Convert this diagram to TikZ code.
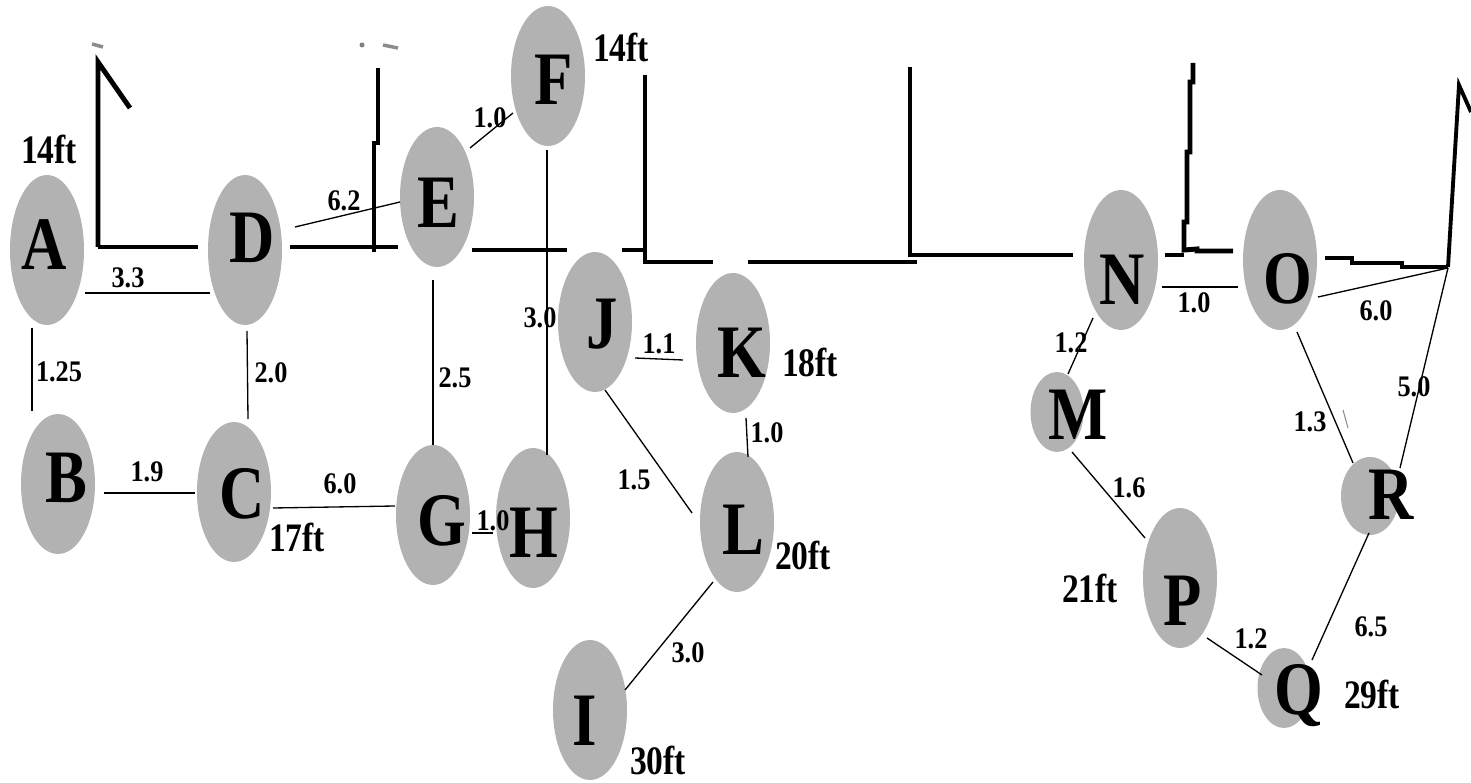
\documentclass[tikz,border=0pt]{standalone}
\usepackage{fontspec}
\usetikzlibrary{shapes.geometric,calc}
\newfontfamily\lbf[FakeStretch=0.83]{Liberation Serif}
\newfontfamily\lbn[FakeStretch=0.88]{Liberation Serif}
\definecolor{nodegray}{RGB}{178,178,178}
\tikzset{
 nd/.style={ellipse, fill=nodegray, draw=none, inner sep=0pt, minimum width=1.48cm, minimum height=2.8cm},
 tall/.style={minimum height=3.0cm},
 small/.style={minimum width=1.06cm, minimum height=1.6cm},
 letter/.style={font=\lbf\bfseries\fontsize{43}{43}\selectfont, inner sep=0pt, anchor=base},
 elab/.style={font=\lbn\bfseries\fontsize{17}{17}\selectfont, inner sep=0pt},
 hlab/.style={font=\lbf\bfseries\fontsize{23}{23}\selectfont, inner sep=0pt},
 edge/.style={line width=0.75pt, black},
 wall/.style={line width=2.8pt, black, line join=miter},
 faint/.style={line width=2pt, black!45},
}
\begin{document}
\begin{tikzpicture}[x=0.02cm,y=-0.02cm]
\fill[white] (0,0) rectangle (1471,783);
\useasboundingbox (0,0) rectangle (1471,783);

% walls
\draw[wall] (98,247) -- (98,62) -- (130,108);
\draw[wall] (98,247) -- (198,247);
\draw[wall] (290,247) -- (398,247);
\draw[wall] (378,68) -- (378,143) -- (374,143) -- (374,252);
\draw[wall] (472,250) -- (567,250);
\draw[wall] (622,250) -- (645,250);
\draw[wall] (645,75) -- (645,262) -- (713,262);
\draw[wall] (748,262) -- (917,262);
\draw[wall] (910,67) -- (910,255) -- (1073,255);
\draw[wall] (1165,255) -- (1184,255);
\draw[wall] (1193,63) -- (1193,82) -- (1190,82) -- (1190,152) -- (1187,152) -- (1187,222) -- (1184,222) -- (1184,250) -- (1197,249) -- (1197,251) -- (1233,251);
\draw[wall] (1325,258) -- (1352,258) -- (1352,263) -- (1402,263) -- (1402,267) -- (1448,267);
\draw[line width=2.2pt] (1448,267) -- (1459,85) -- (1471,112);
% faint marks
\draw[faint] (92,44) -- (103,47);
\fill[black!50] (362,45) circle (0.05cm);
\draw[faint] (383,45) -- (398,48);
\draw[line width=0.6pt, black!45] (1343,410) -- (1348,428);

% nodes
\node[nd, tall] (A) at (47,250) {};
\node[nd] (B) at (58,484) {};
\node[nd] (C) at (234,492) {};
\node[nd, tall] (D) at (245,250) {};
\node[nd] (E) at (437,197) {};
\node[nd] (F) at (548,76) {};
\node[nd] (G) at (433,515) {};
\node[nd] (H) at (533,518) {};
\node[nd] (I) at (590,710) {};
\node[nd] (J) at (595,322) {};
\node[nd] (K) at (733,343) {};
\node[nd] (L) at (737,522) {};
\node[nd, small] (M) at (1057,412) {};
\node[nd] (N) at (1121,260) {};
\node[nd] (O) at (1280,260) {};
\node[nd] (P) at (1180,578) {};
\node[nd, small] (Q) at (1284,688) {};
\node[nd, small, minimum width=1.16cm, minimum height=1.56cm] (R) at (1370,496) {};
\coordinate (corner) at (1448,268);

% letters
\node[letter] (tA) at (44,270) {A};
\node[letter] (tB) at (66,503) {B};
\node[letter] (tC) at (242,519) {C};
\node[letter] (tD) at (252,263) {D};
\node[letter] (tE) at (438,228) {E};
\node[letter] (tF) at (554,105) {F};
\node[letter] (tG) at (442,546) {G};
\node[letter] (tH) at (534,558) {H};
\node[letter] (tI) at (585,745) {I};
\node[letter] (tJ) at (602,349) {J};
\node[letter] (tK) at (742,378) {K};
\node[letter] (tL) at (743,555) {L};
\node[letter] (tM) at (1078,440) {M};
\node[letter] (tN) at (1122,305) {N};
\node[letter] (tO) at (1288,304) {O};
\node[letter] (tP) at (1183,625) {P};
\node[letter] (tQ) at (1299,714) {Q};
\node[letter] (tR) at (1391,520) {R};

% edges
\draw[edge] ($(A)+(38,43)$) -- ($(D)+(-35,43)$);
\draw[edge] ($(A)+(-15,78)$) -- ($(B)+(-26,-73)$);
\draw[edge] ($(D)+(2,81)$) -- ($(C)+(14,-73)$);
\draw[edge] ($(B)+(46,9)$) -- ($(C)+(-39,1)$);
\draw[edge] ($(C)+(39,16)$) -- ($(G)+(-38,-9)$);
\draw[edge] ($(E)+(-4,83)$) -- ($(G)+(0,-70)$);
\draw[edge] ($(F)+(-1,74)$) -- ($(H)+(14,-63)$);
\draw[edge] ($(G)+(39,18)$) -- ($(H)+(-40,15)$);
\draw[edge] ($(D)+(50,-23)$) -- ($(E)+(-37,5)$);
\draw[edge] ($(E)+(33,-49)$) -- ($(F)+(-35,37)$);
\draw[edge] ($(J)+(40,36)$) -- ($(K)+(-50,17)$);
\draw[edge] ($(J)+(10,68)$) -- ($(L)+(-45,-9)$);
\draw[edge] ($(K)+(13,75)$) -- ($(L)+(11,-65)$);
\draw[edge] ($(L)+(-24,60)$) -- ($(I)+(35,-20)$);
\draw[edge] ($(N)+(41,27)$) -- ($(O)+(-42,27)$);
\draw[edge] ($(N)+(-28,58)$) -- ($(M)+(11,-38)$);
\draw[edge] ($(M)+(15,40)$) -- ($(P)+(-35,-40)$);
\draw[edge] ($(P)+(27,60)$) -- ($(Q)+(-22,-13)$);
\draw[edge] ($(Q)+(28,-28)$) -- ($(R)+(-1,37)$);
\draw[edge] ($(O)+(17,72)$) -- ($(R)+(-17,-33)$);
\draw[edge] ($(O)+(38,37)$) -- (corner);
\draw[edge] (corner) -- ($(R)+(30,-28)$);

% edge labels
\node[elab] (l33) at (128,278) {3.3};
\node[elab] (l125) at (59,372) {1.25};
\node[elab] (l20) at (271,373) {2.0};
\node[elab] (l19) at (147,472) {1.9};
\node[elab] (l60a) at (340,484) {6.0};
\node[elab] (l25) at (455,378) {2.5};
\node[elab] (l30a) at (540,318) {3.0};
\node[elab] (l10a) at (493,521) {1.0};
\node[elab] (l62) at (344,201) {6.2};
\node[elab] (l10b) at (490,118) {1.0};
\node[elab] (l11) at (659,344) {1.1};
\node[elab] (l15) at (634,480) {1.5};
\node[elab] (l10c) at (767,433) {1.0};
\node[elab] (l30b) at (688,653) {3.0};
\node[elab] (l10d) at (1194,303) {1.0};
\node[elab] (l12a) at (1071,343) {1.2};
\node[elab] (l16) at (1129,488) {1.6};
\node[elab] (l12b) at (1251,639) {1.2};
\node[elab] (l65) at (1371,627) {6.5};
\node[elab] (l13) at (1310,422) {1.3};
\node[elab] (l60b) at (1376,311) {6.0};
\node[elab] (l50) at (1414,387) {5.0};

% height labels
\node[hlab] (hA) at (49,149) {14ft};
\node[hlab] (hF) at (621,47) {14ft};
\node[hlab] (hC) at (297,537) {17ft};
\node[hlab] (hK) at (810,362) {18ft};
\node[hlab] (hL) at (803,555) {20ft};
\node[hlab] (hI) at (658,760) {30ft};
\node[hlab] (hP) at (1090,588) {21ft};
\node[hlab] (hQ) at (1372,694) {29ft};
\end{tikzpicture}
\end{document}
